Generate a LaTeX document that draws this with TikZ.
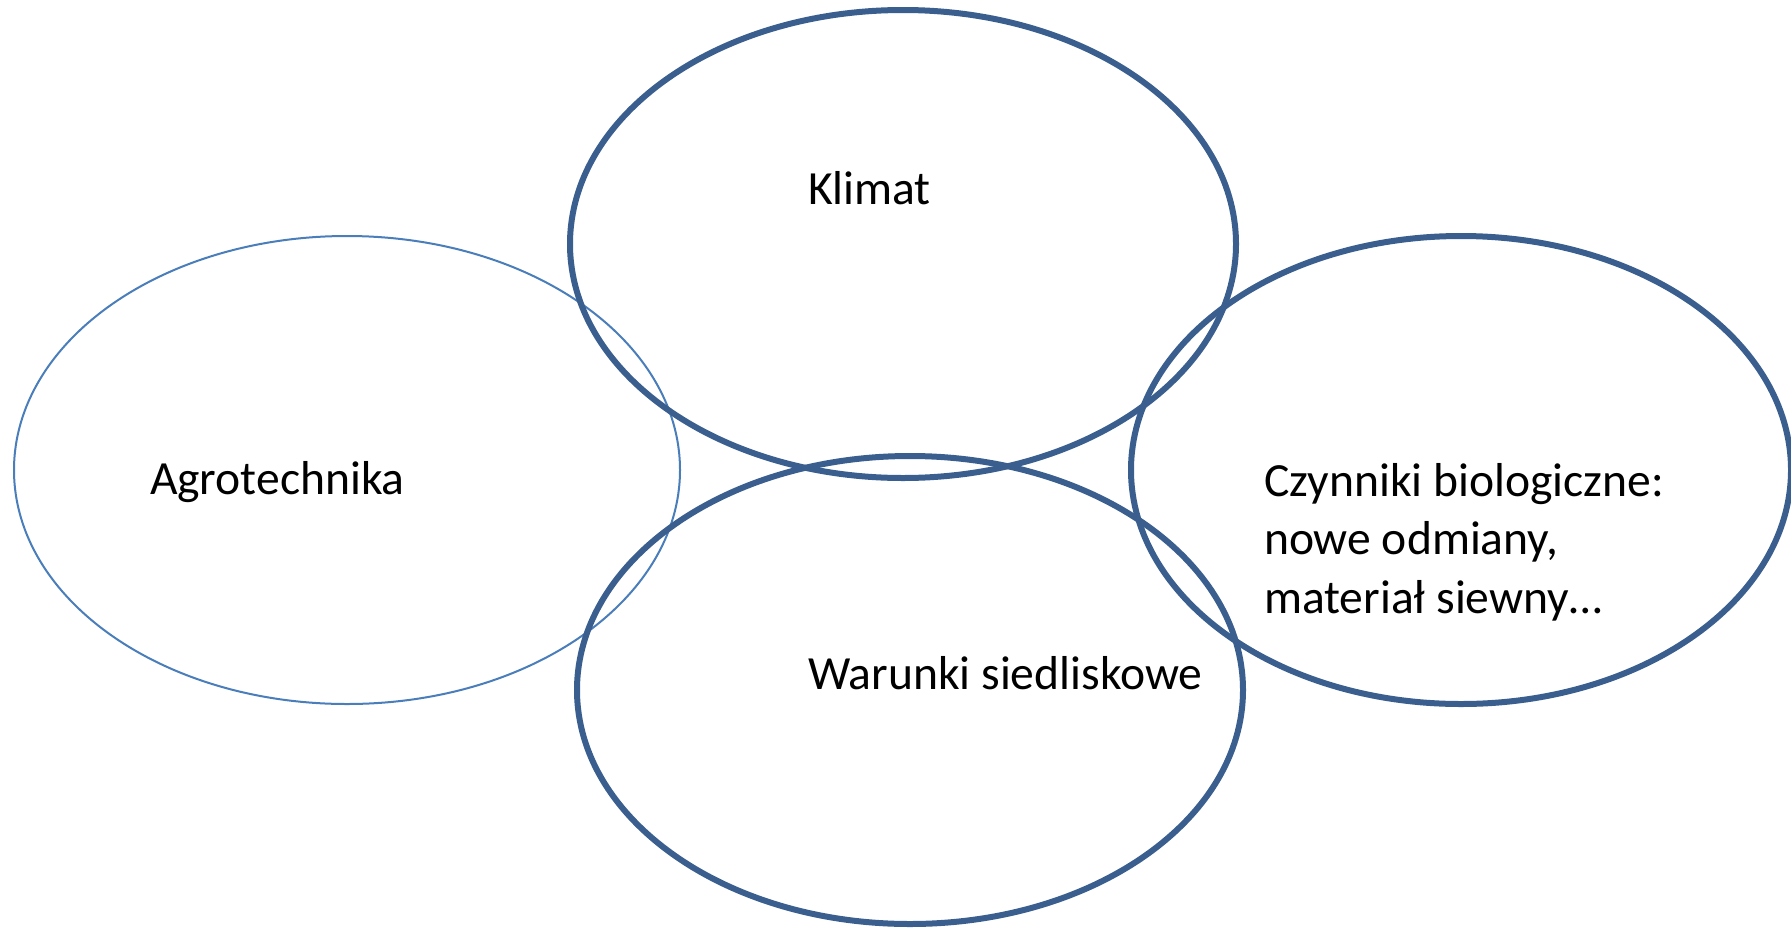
\documentclass[tikz,border=0pt]{standalone}
\usepackage{fontspec}
\setmainfont{Carlito}
\usetikzlibrary{shapes.geometric}

\definecolor{ringdark}{HTML}{3A5F8F}
\definecolor{ringlight}{HTML}{4A7EBB}

\tikzset{
  ring/.style={ellipse, draw=ringdark, line width=6pt, inner sep=0pt, outer sep=0pt,
               minimum width=666pt, minimum height=468pt},
  thinring/.style={ring, draw=ringlight, line width=2pt},
  label/.style={anchor=base west, inner sep=0pt, outer sep=0pt,
                font=\fontsize{47.6}{58.5}\selectfont, text=black}
}

\begin{document}
\begin{tikzpicture}[x=1pt, y=-1pt]
  \useasboundingbox (0,0) rectangle (1791,927);

  % the four overlapping factor rings
  \node[thinring] (agro) at (347,470) {};
  \node[ring] (klimat) at (903,244) {};
  \node[ring] (warunki) at (910,690) {};
  \node[ring, minimum width=660pt] (czynniki) at (1461,470) {};

  % labels (a multi-line node sits on the baseline of its last line)
  \node[label] (tagro) at (150,494) {Agrotechnika};
  \node[label] (tklimat) at (808,204) {Klimat};
  \node[label] (twarunki) at (808,689) {Warunki siedliskowe};
  \node[label, align=left] (tczynniki) at (1264,613)
    {Czynniki biologiczne:\\nowe odmiany,\\materiał siewny…};
\end{tikzpicture}
\end{document}
